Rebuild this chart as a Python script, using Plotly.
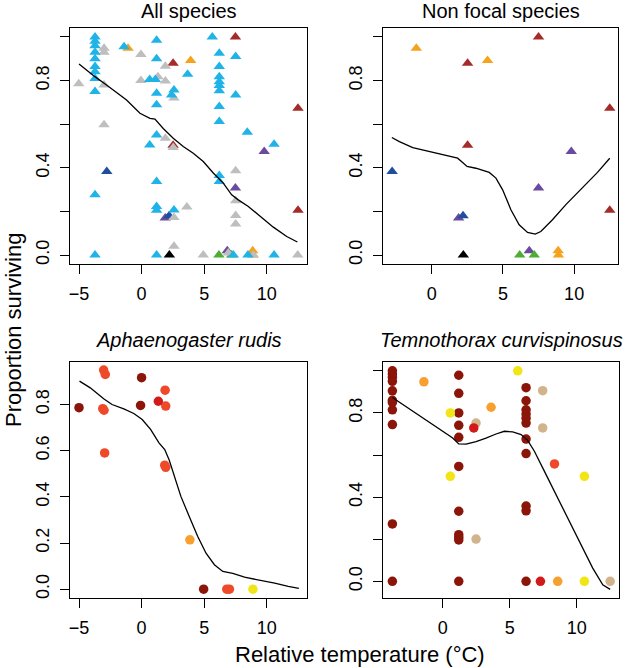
import plotly.graph_objects as go

# ---------------- data ----------------
# Panel 1: All species (triangles)
all_blue_x = [-3.72, -3.72, -3.72, -3.72, -3.72, -3.72, -3.72, -3.72, -3.72, -3.72, -3.72,
              -1.4, 0.65, 0.65, 1.2, 1.2, 1.1, 1.2, 1.2, 1.2, 1.2, 1.2, 1.2, 1.2,
              2.4, 2.59, 2.59, 3.68, 5.65,
              6.21, 6.21, 6.21, 6.21, 6.21, 6.21, 6.21, 6.21, 6.21, 6.21,
              7.33, 7.52, 7.52, 8.45, 8.5, 10.59, 10.59]
all_blue_y = [1.0, 0.98, 0.96, 0.93, 0.9, 0.865, 0.84, 0.81, 0.75, 0.276, 0.0,
              0.955, 0.805, 0.505, 0.985, 0.9, 0.805, 0.742, 0.689, 0.551, 0.337, 0.223, 0.205, 0.0,
              0.734, 0.757, 0.207, 0.829, 1.0,
              0.925, 0.864, 0.818, 0.795, 0.777, 0.753, 0.681, 0.612, 0.365, 0.337,
              0.0, 0.91, 0.734, 0.563, 0.0, 0.508, 0.0]
all_grey_x = [-5.02, -3.0, -3.0, -3.0, -3.0, -0.05, -0.05, 1.31, 1.9, 1.9, 1.9, 2.59, 2.53,
              2.59, 2.59, 3.62, 4.93, 6.93, 7.52, 7.52, 7.52, 7.52, 8.93, 12.48]
all_grey_y = [0.785, 0.948, 0.93, 0.78, 0.597, 0.92, 0.8, 0.818, 0.866, 0.798, 0.536, 0.72, 0.493,
              0.172, 0.04, 0.22, 0.0, 0.01, 0.386, 0.249, 0.181, 0.142, 0.0, 0.0]

# Non-focal species (shown in panels 1 and 2)
nf_purple_x = [1.89, 6.85, 7.5, 9.8]
nf_purple_y = [0.17, 0.02, 0.307, 0.475]
nf_darkblue_x = [-2.78, 2.2]
nf_darkblue_y = [0.383, 0.18]
nf_orange_x = [-1.08, 3.92, 8.88, 8.9]
nf_orange_y = [0.948, 0.892, 0.02, 0.0]
nf_darkred_x = [2.52, 2.52, 7.5, 12.5, 12.5]
nf_darkred_y = [0.879, 0.503, 1.0, 0.673, 0.206]
nf_green_x = [6.18, 7.2]
nf_green_y = [0.0, 0.0]
nf_black_x = [2.22]
nf_black_y = [0.0]

# Panel 3: Aphaenogaster rudis (circles)
ar_darkred_x = [-5.0, 0.0, -0.08, 4.96]
ar_darkred_y = [0.786, 0.916, 0.796, 0.0]
ar_redorange_x = [-3.03, -2.9, -3.1, -3.0, -2.95, 1.88, 1.93, 1.85, 1.93, 6.81, 7.02]
ar_redorange_y = [0.949, 0.93, 0.782, 0.775, 0.59, 0.862, 0.793, 0.537, 0.528, 0.0, 0.0]
ar_red_x = [1.34]
ar_red_y = [0.814]
ar_orange_x = [3.86]
ar_orange_y = [0.214]
ar_yellow_x = [8.9]
ar_yellow_y = [0.0]

# Panel 4: Temnothorax curvispinosus (circles)
tc_darkred_x = [-3.75, -3.75, -3.75, -3.75, -3.75, -3.75, -3.75, -3.75, -3.75, -3.75, -3.75,
                1.2, 1.2, 1.2, 1.2, 1.2, 1.2, 1.2, 1.2, 1.2, 1.2, 1.2,
                6.22, 6.22, 6.22, 6.22, 6.22, 6.22, 6.22, 6.22, 6.22, 6.22, 6.22]
tc_darkred_y = [1.0, 0.985, 0.97, 0.95, 0.905, 0.86, 0.85, 0.815, 0.745, 0.273, 0.0,
                0.979, 0.893, 0.8, 0.741, 0.684, 0.546, 0.333, 0.222, 0.209, 0.197, 0.0,
                0.92, 0.858, 0.815, 0.795, 0.775, 0.752, 0.676, 0.607, 0.358, 0.335, 0.0]
tc_tan_x = [2.49, 2.49, 7.46, 7.46, 12.49]
tc_tan_y = [0.752, 0.201, 0.906, 0.729, 0.0]
tc_red_x = [2.32, 7.29]
tc_red_y = [0.729, 0.0]
tc_redorange_x = [8.34]
tc_redorange_y = [0.558]
tc_orange_x = [-1.4, 3.61, 8.58]
tc_orange_y = [0.948, 0.827, 0.0]
tc_yellow_x = [0.57, 0.57, 5.6, 10.57, 10.57]
tc_yellow_y = [0.8, 0.499, 1.0, 0.499, 0.0]

# Smoothed fits
fit1_x = [-5.0, -3.73, -2.8, -1.2, -0.13, 0.67, 1.07, 1.73, 2.53, 3.33, 4.13, 4.93, 5.73, 6.53,
          7.2, 7.73, 8.53, 9.47, 10.53, 11.6, 12.45]
fit1_y = [0.876, 0.818, 0.78, 0.711, 0.65, 0.627, 0.623, 0.58, 0.536, 0.498, 0.467, 0.429, 0.376,
          0.33, 0.276, 0.253, 0.223, 0.177, 0.128, 0.085, 0.06]
fit2_x = [-2.8, -2.27, -1.33, -0.16, 1.0, 1.82, 2.17, 2.48, 3.1, 4.04, 4.51, 4.98, 5.56, 6.14,
          6.73, 7.27, 7.66, 8.48, 9.42, 10.58, 11.64, 12.5]
fit2_y = [0.539, 0.52, 0.493, 0.475, 0.46, 0.444, 0.424, 0.406, 0.398, 0.379, 0.353, 0.299, 0.208,
          0.139, 0.104, 0.096, 0.108, 0.162, 0.231, 0.307, 0.379, 0.444]
fit3_x = [-4.96, -4.1, -3.03, -2.36, -1.42, -0.62, 0.05, 0.72, 1.39, 1.85, 2.2, 2.6, 3.14, 3.81,
          4.48, 5.15, 5.82, 6.49, 7.29, 8.23, 9.3, 10.64, 11.72, 12.57]
fit3_y = [0.901, 0.872, 0.825, 0.8, 0.781, 0.761, 0.735, 0.692, 0.634, 0.605, 0.561, 0.489, 0.402,
          0.315, 0.229, 0.156, 0.106, 0.077, 0.069, 0.052, 0.041, 0.026, 0.012, 0.004]
fit4_x = [-3.75, -2.49, -1.24, 0.0, 0.75, 1.2, 1.74, 2.49, 3.23, 3.98, 4.6, 5.22, 5.85, 6.34,
          6.84, 7.46, 8.21, 8.96, 9.7, 10.45, 11.19, 11.94, 12.49]
fit4_y = [0.873, 0.819, 0.768, 0.713, 0.681, 0.653, 0.652, 0.664, 0.68, 0.7, 0.713, 0.71, 0.697,
          0.67, 0.618, 0.539, 0.444, 0.349, 0.253, 0.158, 0.063, -0.016, -0.038]

panel_titles = ["All species", "Non focal species",
                "<i>Aphaenogaster rudis</i>", "<i>Temnothorax curvispinosus</i>"]
x_title = "Relative temperature (°C)"
y_title = "Proportion surviving"

# ---------------- styles ----------------
C_BLUE = "#1FB3E8"
C_GREY = "#BEBEBE"
C_PURPLE = "#6A4A9E"
C_DBLUE = "#1F4E9F"
C_ORANGE = "#F5A21D"
C_DRED = "#A52A2A"
C_GREEN = "#4DAE32"
C_BLACK = "#000000"

D_DRED = "#8B1508"
D_REDOR = "#EE4A2A"
D_RED = "#D31A1A"
D_ORANGE = "#F7A02F"
D_YELLOW = "#F1E516"
D_TAN = "#D2B48C"

W, H = 625, 668
FONT = "Liberation Sans, Arial, sans-serif"
TRI = 10
CIR = 9.5


def px(x):
    return x / W


def py(y):
    return 1 - y / H


fig = go.Figure()


def pts(x, y, color, symbol, size, ax):
    fig.add_trace(go.Scatter(x=x, y=y, mode="markers", xaxis="x" + ax, yaxis="y" + ax,
                             marker=dict(color=color, symbol=symbol, size=size, line=dict(width=0)),
                             showlegend=False, hoverinfo="skip"))


def fit(x, y, ax):
    fig.add_trace(go.Scatter(x=x, y=y, mode="lines", xaxis="x" + ax, yaxis="y" + ax,
                             line=dict(color="black", width=1.3), showlegend=False, hoverinfo="skip"))


nf = [(nf_purple_x, nf_purple_y, C_PURPLE), (nf_darkblue_x, nf_darkblue_y, C_DBLUE),
      (nf_orange_x, nf_orange_y, C_ORANGE), (nf_darkred_x, nf_darkred_y, C_DRED),
      (nf_green_x, nf_green_y, C_GREEN), (nf_black_x, nf_black_y, C_BLACK)]

# panel 1
for x, y, c in nf:
    pts(x, y, c, "triangle-up", TRI, "")
pts(all_grey_x, all_grey_y, C_GREY, "triangle-up", TRI, "")
pts(all_blue_x, all_blue_y, C_BLUE, "triangle-up", TRI, "")
fit(fit1_x, fit1_y, "")
# panel 2
for x, y, c in nf:
    pts(x, y, c, "triangle-up", TRI, "2")
fit(fit2_x, fit2_y, "2")
# panel 3
pts(ar_darkred_x, ar_darkred_y, D_DRED, "circle", CIR, "3")
pts(ar_redorange_x, ar_redorange_y, D_REDOR, "circle", CIR, "3")
pts(ar_red_x, ar_red_y, D_RED, "circle", CIR, "3")
pts(ar_orange_x, ar_orange_y, D_ORANGE, "circle", CIR, "3")
pts(ar_yellow_x, ar_yellow_y, D_YELLOW, "circle", CIR, "3")
fit(fit3_x, fit3_y, "3")
# panel 4
pts(tc_darkred_x, tc_darkred_y, D_DRED, "circle", CIR, "4")
pts(tc_tan_x, tc_tan_y, D_TAN, "circle", CIR, "4")
pts(tc_red_x, tc_red_y, D_RED, "circle", CIR, "4")
pts(tc_redorange_x, tc_redorange_y, D_REDOR, "circle", CIR, "4")
pts(tc_orange_x, tc_orange_y, D_ORANGE, "circle", CIR, "4")
pts(tc_yellow_x, tc_yellow_y, D_YELLOW, "circle", CIR, "4")
fit(fit4_x, fit4_y, "4")

# panel boxes in window pixels: (left, right, top, bottom)
boxes = [(70, 307, 28, 264), (383, 618, 28, 264), (70, 307, 362, 598), (383, 619, 362, 598)]
xranges = [[-5.72, 13.22], [-3.42, 13.08], [-5.72, 13.22], [-4.45, 13.15]]
yranges = [[-0.041, 1.041], [-0.041, 1.041], [-0.038, 0.984], [-0.079, 1.042]]
xticks = [[-5, 0, 5, 10], [0, 5, 10], [-5, 0, 5, 10], [0, 5, 10]]
yticks_full = [0, 0.2, 0.4, 0.6, 0.8, 1.0]
ytick_text_sparse = ["0.0", "", "0.4", "", "0.8", ""]
yticks3 = [0, 0.2, 0.4, 0.6, 0.8]
ytick_text3 = ["0.0", "0.2", "0.4", "0.6", "0.8"]

axis_common = dict(showline=True, mirror=True, linecolor="black", linewidth=1,
                   ticks="outside", ticklen=9, tickwidth=1, tickcolor="black",
                   showgrid=False, zeroline=False, fixedrange=True,
                   tickfont=dict(family=FONT, size=18, color="black"))

layout = dict(width=W, height=H, margin=dict(l=0, r=0, t=0, b=0),
              plot_bgcolor="white", paper_bgcolor="white", showlegend=False)

for i, (l, r, t, b) in enumerate(boxes):
    sfx = "" if i == 0 else str(i + 1)
    xa = dict(axis_common, domain=[px(l), px(r)], range=xranges[i], anchor="y" + sfx,
              tickvals=xticks[i], ticktext=[("\u2212" + str(-v)) if v < 0 else str(v) for v in xticks[i]],
              ticklabelstandoff=4)
    if i == 2:
        yv, yt = yticks3, ytick_text3
    else:
        yv, yt = yticks_full, ytick_text_sparse
    ya = dict(axis_common, domain=[py(b), py(t)], range=yranges[i], anchor="x" + sfx,
              tickvals=yv, ticktext=yt, tickangle=-90, ticklabelstandoff=4)
    layout["xaxis" + sfx] = xa
    layout["yaxis" + sfx] = ya

annotations = []
title_y = [11, 11, 340, 340]
for i, (l, r, t, b) in enumerate(boxes):
    annotations.append(dict(text=panel_titles[i], xref="paper", yref="paper",
                            x=px((l + r) / 2), y=py(title_y[i]), xanchor="center", yanchor="middle",
                            showarrow=False, font=dict(family=FONT, size=20, color="black")))
annotations.append(dict(text=x_title, xref="paper", yref="paper", x=px(360), y=py(654),
                        xanchor="center", yanchor="middle", showarrow=False,
                        font=dict(family=FONT, size=22, color="black")))
annotations.append(dict(text=y_title, xref="paper", yref="paper", x=px(13), y=py(330),
                        xanchor="center", yanchor="middle", showarrow=False, textangle=-90,
                        font=dict(family=FONT, size=22, color="black")))
layout["annotations"] = annotations

fig.update_layout(**layout)
fig.write_html("out.html", config={"displayModeBar": False},
               post_script="document.body.style.margin='0px';document.body.style.padding='0px';"
                           "document.documentElement.style.overflow='hidden';")
